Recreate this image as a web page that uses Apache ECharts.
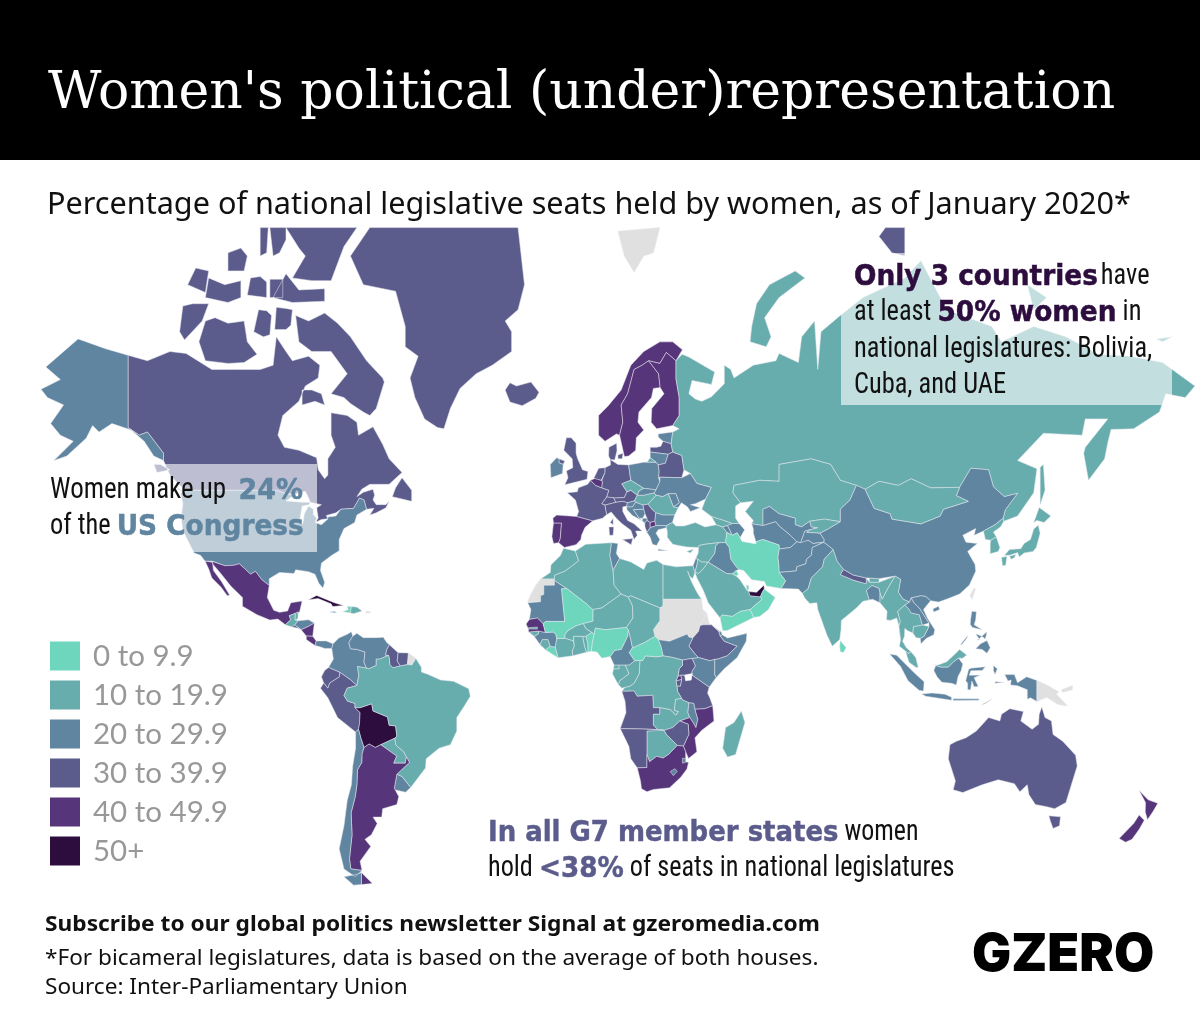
<!DOCTYPE html>
<html><head><meta charset="utf-8"><style>html,body{margin:0;padding:0;background:#fff}#c{width:1200px;height:1028px}</style>
<script src="https://cdn.jsdelivr.net/npm/echarts@6/dist/echarts.min.js"></script></head><body><div id="c"></div><script>
const legendLabels=['0 to 9.9','10 to 19.9','20 to 29.9','30 to 39.9','40 to 49.9','50+'];
const legendColors=['#6dd6bd','#68adad','#5f85a0','#5b5c8c','#57357a','#2c0d3e'];
const binMin=[0,10,20,30,40,50];
const binMax=[10,20,30,40,50,101];
const americas=['Canada','United States','Greenland','Mexico','Guatemala','Belize','Honduras','El Salvador','Nicaragua','Costa Rica','Panama','Cuba','Haiti','Dominican Rep.','Jamaica','Colombia','Venezuela','Guyana','Suriname','Ecuador','Peru','Bolivia','Paraguay','Uruguay','Brazil','Argentina','Chile'];
const americasShare=[31,24,33,48,19,12,21,33,44,46,22,53,3,19,24,20,22,32,30,38,30,53,15,21,15,41,23];
const africa=['Morocco','Mauritania','Algeria','Tunisia','Libya','Egypt','Ethiopia','Djibouti','Somalia','Kenya','South Sudan','Uganda','Rwanda','Burundi','Tanzania','DR Congo','Congo','Gabon','Eq. Guinea','Cameroon','CAR','Chad','Niger','Nigeria','Benin','Togo','Ghana','Burkina Faso',"Cote d'Ivoire",'Liberia','Sierra Leone','Guinea','Guinea-Bissau','Senegal','Gambia','Mali','Angola','Zambia','Malawi','Mozambique','Zimbabwe','Botswana','Namibia','South Africa','Eswatini','Lesotho','Madagascar'];
const africaShare=[18,20,19,25,16,15,37,26,24,22,28,35,49,38,37,13,11,15,18,29,9,15,17,6,7,18,13,13,13,9.7,12,22,14,42,10,9.5,30,18,23,41,32,11,39,43,21,23,16];
const europe=['Iceland','Portugal','Spain','France','Belgium','Netherlands','Germany','Switzerland','Austria','Italy','Denmark','United Kingdom','Ireland','Norway','Sweden','Finland','Estonia','Latvia','Lithuania','Poland','Belarus','Ukraine','Moldova','Romania','Bulgaria','Hungary','Slovakia','Czechia','Slovenia','Croatia','Bosnia','Serbia','Montenegro','Albania','N. Macedonia','Greece'];
const europeShare=[38,40,44,37,41,34,31,33,39,36,39,31,22,41,47,46,29,30,24,28,35,21,25,19,27,13,20,19,23,21,22,38,29,30,40,21];
const asiaPacific=['Turkey','Cyprus','Georgia','Armenia','Azerbaijan','Russia','Severnaya North','Kazakhstan','Uzbekistan','Turkmenistan','Kyrgyzstan','Tajikistan','Afghanistan','Pakistan','Iran','Iraq','Syria','Israel','Jordan','Saudi Arabia','Kuwait','Qatar','UAE','Oman','Yemen','India','Nepal','Bhutan','Bangladesh','Sri Lanka','China','Mongolia','North Korea','South Korea','Japan','Myanmar','Thailand','Laos','Vietnam','Cambodia','Malaysia','Indonesia','Philippines','Australia','New Zealand'];
const asiaPacificShare=[17,18,15,24,21,16,33,19,22,25,19,24,28,20,6,25,13,25,14,19.9,2,2,50,2,0.3,13,33,15,21,5,25,17,17,17,14,10,15,27,27,19,15,20,28,31,41];
const lakes=['Lake Victoria'];
const countries=[].concat(americas,africa,europe,asiaPacific);
const womenShare=[].concat(americasShare,africaShare,europeShare,asiaPacificShare);
const shapes={
Canada:[[-141,69.6,-135,69,-128,70,-123,69.8,-115,68,-108,68,-100,68,-96,68.5,-95,71.5,-92,70,-90,69,-85,69.5,-81.5,68.5,-82,67,-86,66,-88,64,-93,62,-94.5,59,-92.5,57,-88,56.5,-82.5,55.2,-82,53,-80,51.3,-79,52,-79,55,-76.7,57,-78,59,-78,62.4,-73,62,-70,61,-69.5,59,-65,60.3,-62,57.5,-60,55,-56,52.5,-60,50.2,-66,50.2,-68.5,49.2,-70,47.7,-68,48.6,-65,49.2,-64.5,48,-65,47,-64,46,-61,46,-60,46.7,-61,45.3,-64,44.2,-66,43.7,-64.7,45.2,-67,45,-67.8,47,-69.2,47.4,-71,45.2,-75,45,-76.5,44.2,-79.5,43.6,-79,42.9,-81,42.7,-83,42,-82,43,-82.5,45.3,-81,46,-84.5,46.5,-84.7,47,-86,48.8,-89.5,48.2,-92,48.3,-95,49,-123,49,-125,50,-128,52,-130,54.7,-130,56,-135,59.5,-137.5,59,-141,60.2],
[-61.5,66.5,-64,63,-66,62,-68,62.5,-72,63.7,-74,64.5,-78,65,-73,67.5,-78,70,-84,70,-88,71,-89,73.5,-85,73,-80,73.7,-76,72.8,-72,71.5,-67,69,-62,67],[-117,69,-110,68.7,-105,68.8,-101,69.7,-104,71,-105,73,-110,72.8,-114,73.3,-117,73,-119,71],[-125,72,-123.5,71.2,-118,73,-116,74.5,-121,74.5,-124,74.3],[-117,75,-110,74.6,-106,75,-106,76.3,-111,76,-116,76.5],[-96,75,-90,74.6,-80,74.7,-80,75.7,-88,75.6,-92,76.8],[-90,76.5,-84,76.3,-78,76.3,-76,77.5,-74,78.6,-70,79.7,-92,79.7,-88,78.5,-86,78],[-96,78,-94,78.2,-92,79,-92,79.7,-97,79.7],[-95.5,72.2,-92,72.2,-90.5,72.6,-90,74,-92,74.1,-95,74.2],[-102,72,-99,71.5,-97,71.7,-96.5,73.5,-98,73.9,-100.5,74],[-87,63.5,-83,64,-80,63.5,-81,65,-84,65.5,-87,65.5],[-59,47.7,-53,46.7,-53,49,-56,51.5,-58,49.5],[-128,50.7,-123.5,48.4,-125,49],[-104,75.2,-101,75.1,-98,75,-98,76.2,-100,76.6,-103,76.5],[-110,77,-105,77,-104,78,-106,78.5,-110,78.2],[-122.5,76,-117,75.4,-116,77,-120,77.2],[-97,75,-93,75,-93,76.4,-97,76.4],[-100,78,-98,78.2,-97.5,79.7,-100,79.7],[-128,53,-131,54,-133,54,-132,52.5]],
'United States':[[-124.7,48.4,-123,49,-95,49,-92,48.3,-89.5,48,-92,46.8,-87,46.5,-84.5,46.5,-84.8,46,-87,45.7,-87.8,42,-86.8,41.7,-86.3,44,-85,45.7,-83.5,45,-83.5,43.8,-82.5,43,-83,42,-81,41.5,-79,42.8,-79,43.3,-76.5,43.5,-75,45,-71,45.2,-69.2,47.4,-67.8,47,-67,45,-70,43.7,-70.7,42,-74,40.6,-75.5,38,-75.5,35.2,-78,33.9,-81,32,-81.3,30,-80,26.8,-80.5,25.2,-81.8,26.5,-83,29,-85,29.7,-89,30.2,-89.5,29.2,-94,29.5,-97.2,27.8,-97.2,25.9,-99.5,27.5,-101.5,29.8,-103,29,-104.8,30.5,-106.5,31.8,-108.2,31.4,-111,31.3,-114.8,32.5,-117.1,32.5,-118.5,34,-120.5,34.6,-122,37,-124,40.2,-124.5,43,-124,46.3],
[-141,69.6,-141,60.2,-137.5,59,-135,59.5,-130,56,-130,54.7,-133,55.5,-136,58,-140,59.8,-146,60.8,-150,59.5,-152,60.5,-154,58.5,-160,55.5,-164,54.7,-158,58,-162,59,-165,60.8,-161,63.5,-166,64.5,-168,65.6,-162,66.8,-166.5,68.3,-156.5,71.3,-148,70.3]],
Greenland:[[-66,79.7,-20,79.7,-18,76,-20,74,-24,73,-22,72,-22,70,-28,68.5,-33,67.5,-38,65.7,-41,63,-43,60,-45,60.2,-49,61.5,-52,64.5,-53.5,67,-51,69.5,-55,70.5,-55,72.5,-58,75.5,-68,76,-72,78]],
Iceland:[[-24,65.5,-22.5,63.9,-18.7,63.4,-14.5,64.4,-13.5,65.2,-16,66.5,-20.5,66,-22.5,66.4]],
Mexico:[[-114.8,32.4,-111,31.3,-108.2,31.4,-106.5,31.8,-104.8,30.5,-103,29,-101.5,29.8,-99.5,27.5,-97.2,25.9,-97.8,22.5,-95.8,18.8,-94,18.2,-91.5,18.6,-90.5,21,-87,21.5,-87.8,18.2,-89.1,17.9,-91,17.2,-90.5,16,-92.2,14.5,-94.5,16.2,-97,15.9,-101,17.5,-105.5,20,-105.5,22.5,-109,25.6,-112.5,29.5,-114.7,31.7],[-117.1,32.5,-114.8,32.2,-114.5,30,-112,27,-109.5,23.2,-110.2,23,-112.2,25.5,-115,28,-116,30.5]],
Guatemala:[[-92.2,14.5,-90.5,16,-91,17.2,-89.1,17.9,-89.2,15.9,-88.2,15.7,-89.3,14.4,-90.1,13.8]],
Belize:[[-89.1,17.9,-88.2,18.4,-88.3,16.3,-89.2,15.9]],
Honduras:[[-89.3,14.4,-88.2,15.7,-85,16,-83.2,15,-85,14,-87.3,13,-87.8,13.4]],
'El Salvador':[[-90.1,13.8,-89.3,14.4,-87.8,13.4,-88,13.2]],
Nicaragua:[[-87.3,13,-85,14,-83.2,15,-83.7,11,-85.7,11.1]],
'Costa Rica':[[-85.7,11.1,-83.7,11,-82.6,9.6,-83,8.2,-85.7,10]],
Panama:[[-83,8.2,-82.6,9.6,-79.5,9.6,-77.4,8.7,-77.8,7.3,-80,7.3,-81.5,7.8]],
Cuba:[[-85,21.9,-82.5,23.1,-77,21,-74.2,20.2,-77.5,19.9,-78,20.7,-82,22.2]],
Haiti:[[-74.4,18.4,-72,18,-71.7,19.9,-73,19.9,-72.7,19]],
'Dominican Rep.':[[-71.7,19.9,-72,18,-71,17.8,-68.4,18.6,-69.9,19.7]],
Jamaica:[[-78.3,18.3,-76.3,18,-77,18.5]],
'Puerto Rico':[[-67.2,18.5,-65.7,18.4,-66,18,-67.2,18]],
Colombia:[[-77.4,8.7,-75.6,10.5,-73,11.6,-71.7,12.4,-71.3,11,-72.5,9.1,-72,7.2,-70,7,-67.5,6.2,-67.8,3,-67,1.2,-69.8,1.7,-69.4,-1,-70,-4.2,-72,-2.4,-75.3,-0.1,-78.8,1.4,-77.3,4,-77.8,7.3]],
Venezuela:[[-71.3,11,-70,11.9,-68,10.6,-64,10.6,-61.8,10.7,-60.8,9.2,-59.9,8.4,-60.7,7,-61.1,5.2,-60.2,5.2,-62.8,4,-64,4,-64,2,-66.3,1,-67,1.2,-67.8,3,-67.5,6.2,-70,7,-72,7.2,-72.5,9.1]],
Guyana:[[-59.9,8.4,-57.2,6,-57.5,3.4,-56.5,1.9,-58.8,1.3,-59.8,2.3,-59.9,4,-60.2,5.2,-61.1,5.2,-60.7,7]],
Suriname:[[-57.2,6,-54,5.9,-54.3,2.3,-56.5,1.9,-57.5,3.4]],
'French Guiana':[[-54,5.9,-51.7,4.2,-52.9,2.2,-54.3,2.3]],
Ecuador:[[-78.8,1.4,-75.3,-0.1,-75.4,-1.5,-78.4,-3.4,-79,-5,-80.3,-3.4,-81,-1.5,-80,0.5]],
Peru:[[-80.3,-3.4,-79,-5,-78.4,-3.4,-75.4,-1.5,-75.3,-0.1,-72,-2.4,-70,-4.2,-73,-5,-74,-7.3,-72.9,-9,-70.6,-9.7,-70.6,-11,-69,-12.5,-69.2,-16,-69.5,-17.5,-70.4,-18.3,-76,-14,-79,-8,-81.3,-5]],
Bolivia:[[-69,-12.5,-70.6,-11,-69,-11,-65.4,-9.8,-65,-12,-60.5,-13.8,-60,-16.3,-58,-16.5,-57.6,-19.5,-58.2,-20.1,-62.6,-22,-64.3,-22.8,-66.2,-21.8,-67.8,-22.8,-68.8,-20,-69.5,-17.5,-69.2,-16]],
Paraguay:[[-62.6,-22,-58.2,-20.1,-57.9,-22.1,-55.5,-24,-54.6,-25.5,-55,-27.2,-58.6,-27.2,-57.7,-25.2]],
Uruguay:[[-58.4,-33.9,-57.6,-30.2,-56,-30.8,-53.3,-33.7,-54.9,-34.9,-58.3,-34.3]],
Brazil:[[-51.7,4.2,-50,1.5,-50,0,-48,-0.7,-44,-2.5,-40,-2.9,-35.3,-5.2,-34.8,-7.5,-37,-11,-39,-14,-39,-18,-41,-22,-44.5,-23,-48.5,-26,-48.7,-28.5,-53.3,-33.7,-56,-30.8,-57.6,-30.2,-53.7,-27,-54.6,-25.5,-55.5,-24,-57.9,-22.1,-58.2,-20.1,-57.6,-19.5,-58,-16.5,-60,-16.3,-60.5,-13.8,-65,-12,-65.4,-9.8,-69,-11,-70.6,-11,-70.6,-9.7,-72.9,-9,-74,-7.3,-73,-5,-70,-4.2,-69.4,-1,-69.8,1.7,-67,1.2,-66.3,1,-64,2,-64,4,-62.8,4,-60.2,5.2,-59.9,4,-59.8,2.3,-58.8,1.3,-56.5,1.9,-54.3,2.3,-52.9,2.2]],
Argentina:[[-66.2,-21.8,-64.3,-22.8,-62.6,-22,-57.7,-25.2,-58.6,-27.2,-55,-27.2,-54.6,-25.5,-53.7,-27,-57.6,-30.2,-58.4,-33.9,-57,-36,-57.6,-38,-62,-39,-62.3,-41,-65,-41,-63.7,-42.5,-65.5,-45,-67.5,-46,-65.7,-47.5,-69,-50.5,-68.4,-52.3,-71.9,-52,-72.3,-50,-71.5,-45,-71.8,-40,-70.5,-36,-70,-33,-69.8,-29,-68.5,-27,-68.4,-24.5,-67.8,-22.8],[-68.6,-52.7,-65.2,-54.7,-68.6,-54.9]],
Chile:[[-69.5,-17.5,-68.8,-20,-67.8,-22.8,-68.4,-24.5,-68.5,-27,-69.8,-29,-70,-33,-70.5,-36,-71.8,-40,-71.5,-45,-72.3,-50,-71.9,-52,-68.4,-52.3,-70.5,-53.5,-74,-52,-75.5,-48,-74,-43,-73.5,-40,-73,-37,-71.7,-33,-71.3,-28,-70.4,-23,-70.4,-18.3],[-68.6,-52.7,-68.6,-54.9,-71,-55,-74,-53.5,-70,-53]],
Morocco:[[-5.9,35.8,-2.2,35.1,-1.2,32.6,-3.6,31,-5.5,29.8,-8.7,28.7,-8.7,27.7,-13,27.7,-10,29.5,-9.8,31.5,-6.8,34]],
'Western Sahara':[[-13,27.7,-8.7,27.7,-8.7,26,-12,26,-12,23.4,-13,21.3,-17,21.3,-16,23.5,-14.5,26]],
Mauritania:[[-17,21,-13,21.3,-13,23,-12,23.4,-12,26,-8.7,26,-8.7,27.3,-4.8,25,-6.5,25,-5.5,15.5,-11.5,15.5,-12.2,14.8,-14,16.5,-16.5,16.1,-16,19]],
Algeria:[[-2.2,35.1,1,36.8,9,37.2,8.5,34,9.5,30,9.8,26,12,23.5,6,19.5,3.2,19,1.2,20.7,-4.8,25,-8.7,27.3,-8.7,28.7,-5.5,29.8,-3.6,31,-1.2,32.6]],
Tunisia:[[9,37.2,11,37,10.5,34.5,11.5,33.2,9.5,30,8.5,34]],
Libya:[[11.5,33.2,15,32.3,19,30.3,20,32,23,32.7,25,31.6,25,20,24,19.5,15,23,14.2,22.6,12,23.5,9.8,26,9.5,30]],
Egypt:[[25,31.6,29,31,32.5,31.2,34.3,31.3,34.9,29.5,34.2,27.8,33.2,28.5,32.6,29.9,33.8,27,35.5,24,36.9,22,25,22]],
Sudan:[[25,22,36.9,22,37.3,19,38.6,18,36.5,14.3,36,12.5,34.2,10.5,33,10.8,32.5,11.7,27,9.5,23.5,10,22.5,11,22,13,22.7,14,24,15.7,24,19.5,25,20]],
Eritrea:[[36.5,14.3,38.6,18,39.2,15,43,12.5,42.3,12.5,40,14.5,37.5,14.5]],
Ethiopia:[[36,12.5,36.5,14.3,37.5,14.5,40,14.5,42.3,12.5,42.8,11,44,9.5,48,8,44.9,5,42,4,41,3.9,39.5,3.5,36,4.5,35,5.5,33,8,34.2,10.5]],
Djibouti:[[42.3,12.5,43,12.5,43.3,11.5,42.8,11]],
Somalia:[[42.8,11,43.3,11.5,45,10.5,51,11.9,50.8,9.5,48,4.5,44,1,41.5,-1.7,41,-0.9,41,3.9,42,4,44.9,5,48,8,44,9.5]],
Kenya:[[34,4.2,36,4.5,39.5,3.5,41,3.9,41,-0.9,41.5,-1.7,39.3,-4.7,34,-1,33.9,0.1,35,1.9]],
'South Sudan':[[23.5,10,27,9.5,32.5,11.7,33,10.8,34.2,10.5,33,8,35,5.5,36,4.5,34,4.2,31,3.7,28,4.5,25,5,24.3,8]],
Uganda:[[31,3.7,34,4.2,35,1.9,33.9,0.1,34,-1,30.5,-1,29.6,-1.4,30,1,31,2]],
Rwanda:[[29.6,-1.4,30.5,-1,30.8,-2.3,29,-2.8]],
Burundi:[[29,-2.8,30.8,-2.3,30.4,-4.4,29.3,-4.4]],
Tanzania:[[30.5,-1,34,-1,39.3,-4.7,38.8,-6.5,39.5,-8,40.4,-10.4,38,-11.3,34.9,-11.5,34.5,-9.7,33,-9.5,31,-8.6,29.5,-6,29.3,-4.4,30.4,-4.4,30.8,-2.3]],
'DR Congo':[[12.2,-6,13.2,-4.7,14.5,-4.5,16,-3.5,17.6,-0.5,17.8,3.6,18.6,3.5,19.5,5,22.8,4.7,25,5,28,4.5,31,3.7,31,2,30,1,29.6,-1.4,29,-2.8,29.3,-4.4,29.5,-6,30.8,-8.2,28.9,-8.5,28.5,-11.8,29.8,-12.2,29,-13.3,27.2,-11.6,24,-11,22,-11,21.8,-7.2,17,-7.5,16,-5.9]],
Congo:[[11.1,-3.9,12.2,-5,13.2,-4.7,14.5,-4.5,16,-3.5,17.6,-0.5,17.8,3.6,16.2,3.5,14.5,2.2,13.2,2.2,14.4,-0.5,12.5,-2,11.7,-2.5]],
Gabon:[[9.3,-0.6,9.6,1,11.3,1,11.3,2.2,13.2,2.2,14.4,-0.5,12.5,-2,11.7,-2.5,11.1,-3.9]],
'Eq. Guinea':[[9.6,1,11.3,1,11.3,2.2,9.8,2.2]],
Cameroon:[[8.6,4.8,9.8,2.2,11.3,2.2,13.2,2.2,14.5,2.2,16.2,3.5,14.5,6,15.5,7.5,15,10,14.2,13,14,11,13,9,12,7,10,6.7]],
CAR:[[14.5,6,16.2,3.5,17.8,3.6,18.6,3.5,19.5,5,22.8,4.7,25,5,24.3,8,23.5,10,22.5,11,19,9,15.5,7.5]],
Chad:[[14.2,13,15,10,15.5,7.5,19,9,22.5,11,22,13,22.7,14,24,15.7,24,19.5,15,23,14.2,22.6,15.5,20,15.6,16.5,13.6,13.7]],
Niger:[[0.2,14.9,1,13.4,2.8,12.2,3.6,11.7,4,13.5,7,13,10,13.3,13.6,13.7,15.6,16.5,15.5,20,14.2,22.6,12,23.5,6,19.5,3.2,19,3.2,15.6]],
Nigeria:[[2.7,6.4,3,9,3.6,11.7,4,13.5,7,13,10,13.3,13.6,13.7,14.2,13,14,11,13,9,12,7,10,6.7,8.6,4.8,6,4.3,4.5,6.2]],
Benin:[[1.7,6.2,2.7,6.4,3,9,3.6,11.7,2.8,12.2,1,11,1.6,9]],
Togo:[[1.2,6.1,1.7,6.2,1.6,9,1,11,0,11,0.6,8]],
Ghana:[[-3,5,1.2,6.1,0.6,8,0,11,-2.8,11,-2.6,8,-3.2,6.5]],
'Burkina Faso':[[-5.5,10.4,-2.8,9.6,-2.8,11,0,11,1,11,2.8,12.2,1,13.4,0.2,14.9,-2,14.2,-4.5,12.8,-5.5,11.5]],
"Cote d'Ivoire":[[-7.6,4.4,-3,5,-3.2,6.5,-2.6,8,-2.8,9.6,-5.5,10.4,-8,10.3,-8.5,7.7]],
Liberia:[[-11.5,6.9,-7.6,4.4,-8.5,7.7,-10,8]],
'Sierra Leone':[[-13.2,8.5,-11.5,6.9,-10,8,-10.7,10,-12.5,10]],
Guinea:[[-15,11,-13.2,8.5,-12.5,10,-10.7,10,-10,8,-8.5,7.7,-8,10.3,-8.2,11.5,-9,12.3,-11.5,12.2,-13.7,12.6,-13.7,11.7]],
'Guinea-Bissau':[[-16.7,12.3,-13.7,12.6,-13.7,11.7,-15,11]],
Senegal:[[-17.5,14.7,-16.5,16.1,-14,16.5,-12.2,14.8,-11.5,12.2,-13.7,12.6,-16.7,12.3,-16.8,13.2]],
Gambia:[[-16.8,13.6,-14,13.8,-14,13.2,-16.8,13.2]],
Mali:[[-11.5,15.5,-5.5,15.5,-6.5,25,-4.8,25,1.2,20.7,3.2,19,3.2,15.6,0.2,14.9,-2,14.2,-4.5,12.8,-5.5,11.5,-5.5,10.4,-8,10.3,-8.2,11.5,-9,12.3,-11.5,12.2,-12.2,14.8]],
Angola:[[11.7,-17.3,13.5,-12.5,13.2,-9,12.2,-6,16,-5.9,17,-7.5,21.8,-7.2,22,-11,24,-11,24,-13,22,-13,22,-16.2,23.4,-17.6,18.5,-17.4]],
Zambia:[[22,-13,24,-13,24,-11,27.2,-11.6,29,-13.3,29.8,-12.2,28.5,-11.8,28.9,-8.5,30.8,-8.2,31,-8.6,33,-9.5,32.7,-12.5,33.3,-14,30.2,-15,28,-17,25.3,-17.8,23.4,-17.6,22,-16.2]],
Malawi:[[33,-9.5,34.5,-9.7,34.9,-11.5,35.8,-14.5,35.2,-17,34.3,-15.5,33.3,-14,32.7,-12.5]],
Mozambique:[[40.4,-10.4,40.8,-15,37,-17.8,34.9,-20,35.5,-24,32.9,-25.9,32,-24,31.3,-22.4,33,-19,32.8,-16,30.2,-15,33.3,-14,34.3,-15.5,35.2,-17,35.8,-14.5,34.9,-11.5,38,-11.3]],
Zimbabwe:[[25.3,-17.8,28,-17,30.2,-15,32.8,-16,33,-19,31.3,-22.4,29.4,-22.2,26,-19]],
Botswana:[[20,-18,23.4,-17.6,25.3,-17.8,26,-19,29.4,-22.2,26.8,-24.7,25,-25.8,23,-25.3,20.8,-26.8,20,-24.8]],
Namibia:[[11.7,-17.3,18.5,-17.4,23.4,-17.6,25.3,-17.8,20,-18,20,-24.8,20,-28.4,17,-28.5,15,-26,14.4,-22.5]],
'South Africa':[[17,-28.5,20,-28.4,20,-24.8,20.8,-26.8,23,-25.3,25,-25.8,26.8,-24.7,29.4,-22.2,31.3,-22.4,32,-24,32,-26.8,32.9,-27,32.4,-28.8,30.5,-31,27,-33.8,22,-34.2,20,-34.8,18.3,-34,18,-32]],
Eswatini:[[31,-25.8,32,-26,32,-27,31,-27.2]],
Lesotho:[[27.2,-29.5,28.7,-28.7,29.4,-29.5,28.2,-30.6]],
Madagascar:[[49.3,-12,50.4,-15.5,47.5,-24.8,45,-25.5,43.5,-23,44.4,-17,47,-15.5]],
Portugal:[[-9,41.9,-6.5,41.9,-6.9,38.2,-7.4,37.2,-9,37,-9.5,38.7]],
Spain:[[-9.2,43,-8,43.7,-1.8,43.4,3.2,42.4,0.8,40.9,-0.3,39,-0.5,38,-2,36.7,-5.6,36,-7.4,37.2,-6.9,38.2,-6.5,41.9,-9,41.9]],
France:[[-1.8,43.4,3.2,42.4,6.2,43,7.5,43.8,7,45.9,6,46.2,7.5,47.6,8.2,49,6,49.5,4,50,2.5,51,1.6,50.2,-1.3,49.5,-1.6,48.7,-4.7,48.5,-2.2,47,-1.2,44.5],[8.6,42,9.5,41.5,9.5,43]],
Belgium:[[2.5,51,4,50,6,49.5,6.2,50.7,5.8,51,4,51.4]],
Netherlands:[[3.5,51.4,5.8,51,6,51,7,52.5,7,53.4,5,53.3,4,52]],
Germany:[[6,49.5,8.2,49,7.5,47.6,10,47.4,13,47.5,13.8,48.7,12.2,50.3,15,51,14.3,53.9,11,54,8.6,54.9,8.7,53.9,7,53.4,7,52.5,6,51,6.2,50.7]],
Switzerland:[[6,46.2,7,45.9,10.4,46.5,9.6,47.5,7.5,47.6]],
Austria:[[9.6,47.5,10.4,46.5,12.4,46.7,14,46.4,16.1,46.8,17,48,15,49,13.8,48.7,13,47.5,10,47.4]],
Italy:[[7.5,43.8,8.9,44.4,10.5,43,12.3,41.7,15,40.2,16,38,17,39,16.5,40,18.5,40,16,41.7,14,42.5,12.5,44.5,12.5,45.5,13.7,45.7,14,46.4,12.4,46.7,10.4,46.5,7,45.9],[12.4,38,15.6,38.2,15.1,36.7],[8.2,41,9.7,41,9.5,39,8.4,39]],
Denmark:[[8.1,55.5,8.6,54.9,10,54.8,10.7,56.4,10.6,57.7,8.2,57],[11,55.7,12.6,56,12.3,55,11,55]],
'United Kingdom':[[-5.5,50.1,1.4,51.2,1.7,52.7,0,53,-1.5,55,-2,56,-2,57.7,-3.5,58.6,-5,58.6,-5.8,56.5,-3.2,55,-3,53.4,-5,52.8,-4.5,51.5],[-7.3,55,-5.5,54.6,-6,54,-7.3,54.3]],
Ireland:[[-10,54,-8,55.2,-7.3,55,-7.3,54.3,-6,54,-6.2,52.3,-9.8,51.5]],
Norway:[[5,59,7,58,10.5,59.2,11.5,59,12.5,61,12,63.5,14,65,16,68,18.5,68.5,20.5,69,24,68.7,26,69.9,29,69,31,70.2,28,71,24,71,19,70,15,68.5,12,65.5,8,63.4,5,62]],
Sweden:[[11.5,59,13,55.4,14.3,55.5,16.5,56.5,16.7,58.6,19,59.8,17.2,61,17.5,62.5,21.4,64.5,22,65.7,24.1,65.8,23.6,67.5,20.5,69,18.5,68.5,16,68,14,65,12,63.5,12.5,61]],
Finland:[[24.1,65.8,25.3,65,21.5,63,21.3,61,23,60,28,60.5,30,62,30,64.5,29,66.9,29,69,26,69.9,24,68.7,20.5,69,23.6,67.5]],
Estonia:[[23.5,59.2,28,59.5,27.5,57.6,25,58,23.5,58.7]],
Latvia:[[21,57,21,56.2,26.6,55.8,28,56.2,27.5,57.6,25,58,24.3,57.2,23,57]],
Lithuania:[[21,56.2,21,55.2,22.8,54.4,23.5,53.9,25.7,54.2,26.6,55.8]],
Poland:[[14.3,53.9,19,54.4,22.8,54.4,23.5,53.9,23.8,52.7,23.6,51.5,24,50.7,22.8,49.1,19,49.4,15,51]],
Belarus:[[23.5,53.9,25.7,54.2,26.6,55.8,28,56.2,30.8,55.6,31.5,53,30.8,51.5,24,51.6,23.6,51.5,23.8,52.7]],
Ukraine:[[24,51.6,30.8,51.5,33.5,52.3,35.5,50.4,40,49.6,38.2,47.2,35,46.2,33.5,46,36.5,45.3,33.5,44.5,32.6,45.5,30.7,46.4,29.7,45.3,28.2,45.5,30,46.4,29,48.3,26.6,48.3,24.9,47.7,22.8,48,22.2,48.5,22.8,49.1,24,50.7]],
Moldova:[[26.6,48.3,29,48.3,30,46.4,28.2,45.5]],
Romania:[[20.3,46.1,22.8,48,24.9,47.7,26.6,48.3,28.2,45.5,29.7,45.3,28.6,43.7,25,43.7,22.7,44.2,21.5,45]],
Bulgaria:[[22.7,44.2,25,43.7,28.6,43.7,27.9,42,26,41.3,22.8,41.3,22.4,42.3]],
Hungary:[[16.1,46.8,17,48,19,48,22.2,48.5,22.8,48,20.3,46.1,18.8,45.9,16.5,46.5]],
Slovakia:[[17,48,19,48,22.2,48.5,22.8,49.1,19,49.4,17.5,48.9]],
Czechia:[[12.2,50.3,13.8,48.7,15,49,17,48,17.5,48.9,19,49.4,15,51]],
Slovenia:[[13.7,45.5,15.5,45.5,16.5,46.5,16.1,46.8,14,46.4,13.7,45.7]],
Croatia:[[13.7,45.5,13.8,44.9,15.5,43.6,18.5,42.4,17.6,43,15.8,44.9,19,45,18.8,45.9,16.5,46.5,15.5,45.5]],
Bosnia:[[15.8,44.9,17.6,43,18.7,43,19.4,44,19,45]],
Serbia:[[19,45,18.8,45.9,20.3,46.1,21.5,45,22.7,44.2,22.4,42.3,21,42,20,42.5,20,43,19.4,44]],
Montenegro:[[18.5,42.4,18.7,43,20,43,20,42.5,19.3,41.9]],
Albania:[[19.3,41.9,20,42.5,21,42,21,40.8,20,39.7,19.4,41]],
'N. Macedonia':[[21,42,22.4,42.3,22.8,41.3,21,40.8]],
Greece:[[20,39.7,21,40.8,22.8,41.3,26,41.3,26,40.8,23.5,40.3,22.8,39.5,24,38,23,36.5,21.7,36.8,21,38.5],[23.5,35.6,26.3,35.2,26,35,23.5,35.2]],
Turkey:[[26,40.8,26,41.3,27.9,42,29,41.2,31.5,41.2,35,42,38,41,41.5,41.5,43.5,41,44.8,39.7,44.4,37.2,42.3,37.2,38,36.8,36.2,36.5,36,36,32.5,36.1,30.5,36.4,28,36.8,26.3,38.5,26.3,40]],
Cyprus:[[32.3,35,34.5,35.6,33.5,34.6]],
Georgia:[[40,43.4,43.5,42.6,46.5,41.8,45,41.3,43.5,41,41.5,41.5]],
Armenia:[[43.5,41,45,41.3,46.5,39,44.8,39.7]],
Azerbaijan:[[45,41.3,46.5,41.8,48.6,41.8,50.3,40.3,48.9,38.4,48,39.6,46.5,39]],
Russia:[[30.9,69.7,33,69.4,41,67.7,40,66.2,34,66.7,33,65,35,64.3,37,64,40,64.6,44,66.3,44,68.5,46,68,47,67,53,68.5,60,69,61,69.8,67,68.8,68,71.5,72,73,73,68,74,72,80,73.5,87,75,100,76.5,105,77.7,113,74,127,72.5,130,71,140,72.5,150,71.5,160,69.7,170,69.5,180,68.8,190,66,187,64.5,181,65,179,62.5,171,60,164,59.9,163,57.8,162,55,157,51,155.5,56,156,57,163,61.5,156,61.5,155,59,143,59.3,135,54.7,141,53.2,140,48.5,135,43.5,130.7,42.3,130.5,43,131.2,44.9,135,48.4,130.9,47.7,127.5,49.7,126,53,120.5,53.3,117,49.6,108,49.5,102,51.3,98,50,92,50.8,87.7,49.2,85,50,80,51,77,54,71,55,61,54,61,50.8,55,51,47,50,46.7,48.5,49,46.4,47.5,45.7,47.5,43,48.6,41.8,46.5,41.8,43.5,42.6,40,43.4,37,45,38.2,47.2,40,49.6,35.5,50.4,33.5,52.3,31.5,53,30.8,55.6,28,56.2,27.5,57.6,28,59.5,30,60,28,60.5,30,62,30,64.5,29,66.9,29,69],[52,71,57,70.5,58.5,71.5,56.5,73.3,61,75,69,76.5,66,77,58,76,54,74.5,52.5,72.5],[142,46,143.5,49,143,54,142,53.5,142,49],[20,54.4,22.8,54.4,21,55.2],[140,74,144,75,138,76],[180,71,183,71.5,178,71.3]],
'Severnaya North':[[92,79.2,96,78.2,100,78,100,79.7,94,79.7]],
Kazakhstan:[[47,50,55,51,61,50.8,61,54,71,55,77,54,80,51,85,50,83,47,80,45,80,42.2,75,42.8,70.5,42.3,68,41,66,41.5,66,43,61,44,58,45.6,56,45,56,41.3,52.5,41.7,53,42.5,50.5,44.5,53,46.7,49,46.4,46.7,48.5]],
Uzbekistan:[[56,45,58,45.6,61,44,66,43,66,41.5,68,41,70.5,42.3,71,41,73,40.8,70.5,40.3,69,40,67.7,37.2,66.5,37.4,64.5,39,61,41.2,60,42.2,56,41.3]],
Turkmenistan:[[52.5,41.7,56,41.3,60,42.2,61,41.2,64.5,39,66.5,37.4,64.5,36,61,35.6,61,36.6,56,38,53.8,37.4,53,39.5,53,40.5]],
Kyrgyzstan:[[70.5,42.3,75,42.8,80,42.2,76,40.4,73.7,39.5,69.5,39.7,70.5,40.3,73,40.8,71,41]],
Tajikistan:[[67.7,37.2,69,40,70.5,40.3,69.5,39.7,73.7,39.5,75,38,74.9,37.3,71.5,37,70,37.8,68,37]],
Afghanistan:[[61,35.6,64.5,36,66.5,37.4,67.7,37.2,68,37,70,37.8,71.5,37,74.9,37.3,71.3,36,71,34,69.5,33,69.3,31.8,66.5,31,66.3,29.9,61,29.5,60.9,31.5,60.6,33.5]],
Pakistan:[[61,29.5,66.3,29.9,66.5,31,69.3,31.8,69.5,33,71,34,71.3,36,74.9,37.3,77.8,35.5,75,33,74.5,31,71,28,70,25,68.2,23.7,67,24.9,61.6,25.1,63,27.2]],
Iran:[[44.8,39.7,46.5,39,48,39.6,48.9,38.4,49.5,37.5,53.8,36.9,53.8,37.4,56,38,61,36.6,61,35.6,60.6,33.5,60.9,31.5,61,29.5,63,27.2,61.6,25.1,57,25.8,56.5,27,52.5,27.5,50,30,48.5,30.3,47.7,31,46,33,45.5,36,44.4,37.2]],
Iraq:[[42.3,37.2,44.4,37.2,45.5,36,46,33,47.7,31,48.5,30.3,47.7,30,46.5,29.1,44.7,29.2,39,32.2,41,34.5,41.3,36.4]],
Syria:[[36,36,36.2,36.5,38,36.8,42.3,37.2,41.3,36.4,41,34.5,39,32.2,36.8,32.3,35.8,33,35.1,33.1,35.9,34.6]],
Israel:[[34.3,31.3,35.1,33.1,35.8,33,35.5,31.5,34.9,29.5]],
Jordan:[[35.5,31.5,35.8,33,36.8,32.3,39,32.2,37.5,30.5,36,29.2,34.9,29.5]],
'Saudi Arabia':[[34.9,29.5,36,29.2,37.5,30.5,39,32.2,44.7,29.2,46.5,29.1,47.7,28.5,48.8,27.6,50.2,25.7,51,24.6,51.6,24.2,52,23,55.2,22.7,55.7,22,52,19,49,18.5,46.5,17,43.3,17.4,42.7,16.5,39,21,37.5,24.5,35.5,28]],
Kuwait:[[46.5,29.1,47.7,30,48.4,29,47.7,28.5]],
Qatar:[[51,24.6,50.8,26,51.6,25.9,51.6,24.8]],
UAE:[[51.6,24.2,54,24,56.3,26,56.4,24.9,55.8,24,55.2,22.7,52,23]],
Oman:[[55.2,22.7,55.8,24,56.4,24.9,59.8,22.5,57.7,19,55,17,53.1,16.7,52,19,55.7,22]],
Yemen:[[42.7,16.5,43.3,17.4,46.5,17,49,18.5,52,19,53.1,16.7,45,12.8,43.5,12.7]],
India:[[68.2,23.7,70,25,71,28,74.5,31,75,33,77.8,35.5,79,32.5,81,30.3,80,28.9,84,27.4,88,26.4,88,28,89,26.8,92,26.8,97,28.5,94.5,24.7,93,22,92.3,23.7,92,25.1,89.8,25.9,88.1,24.5,89,21.8,87,21.4,85,19.5,80.3,15.8,80.2,13,79.8,10,77.5,8,75.8,11.5,73,19,72.7,21,70.5,20.8,69,22.3]],
Nepal:[[80,28.9,81,30.3,84,28.8,88,28,88,26.4,84,27.4]],
Bhutan:[[89,26.8,89,28,92,27.8,92,26.8]],
Bangladesh:[[88.1,24.5,89.8,25.9,92,25.1,92.3,23.7,92.3,21,90,22,89,21.8]],
'Sri Lanka':[[80,9.7,81.8,7.5,81,6.1,80,6.2,79.8,8]],
China:[[73.7,39.5,76,40.4,80,42.2,80,45,83,47,85,50,87.7,49.2,90.5,45.2,95.5,44,96,42.8,105,41.7,111,43.5,112,45,119.7,46.7,116,47.9,117,49.6,120.5,53.3,126,53,127.5,49.7,130.9,47.7,135,48.4,131.2,44.9,130.5,43,128,41.5,124.4,40,121.5,39,122,40.6,118,39,119,37.3,122.5,37,119.5,35,121.8,31.6,122,29.8,120,26,117,23.5,113.5,22.2,110.5,21.2,108,21.6,106.5,22.8,105,23,102,22.4,101.5,21.2,99.5,22,98,24,98.7,27.6,97,28.5,92,27.8,89,28,88,28,84,28.8,81,30.3,79,32.5,77.8,35.5,74.9,37.3,75,38],[108.7,19.2,110.5,20,110.8,19,109,18.3]],
Mongolia:[[87.7,49.2,92,50.8,98,50,102,51.3,108,49.5,117,49.6,116,47.9,119.7,46.7,112,45,111,43.5,105,41.7,96,42.8,95.5,44,90.5,45.2]],
'North Korea':[[124.4,40,128,41.5,130.5,43,130.7,42.3,129.7,41,127.5,39.8,128.4,38.6,126.7,37.8,125,38]],
'South Korea':[[126.7,37.8,128.4,38.6,129.5,36,129,35,126.5,34.4,126.5,37]],
Japan:[[130.9,34,132.5,35.5,136,35.7,137,37,139,38,140,40.5,141.4,41.4,142,39.5,140.8,36,139.8,35,137,34.6,135.5,33.6,135,34.7,132.5,34],[140,42,141.7,45.4,145.3,43.5,143.2,42,141,42.5],[130,33.5,131.7,33.7,131.3,31.4,130.3,31.3],[132.5,33.8,134.5,34.2,134,33.4,133,33]],
Taiwan:[[120.2,23,121.5,25.2,121.9,25,120.9,22]],
Svalbard:[[11,79.5,13,78,16,76.9,19,78,22,78.2,24,79.7]],
Myanmar:[[92.3,21,92.3,23.7,93,22,94.5,24.7,97,28.5,98.7,27.6,98,24,99.5,22,101.5,21.2,100,20.3,97.8,18.5,98.6,15.5,98.2,14,98.7,10,98.5,13,97.5,16.5,95.5,15.8,94.3,16,94.5,18.5]],
Thailand:[[97.8,18.5,100,20.3,101,19.5,102,18,104.5,17.5,105.5,14.4,102.7,13.9,102.5,12,100.9,12.7,100,13.4,99.9,11,99.3,9.5,100.5,7.5,102,6.2,101,5.7,100.2,6.5,98.3,8,98.7,10,98.2,14,98.6,15.5]],
Laos:[[100,20.3,101.5,21.2,102,22.4,103,20.8,104.5,19.5,107.5,15,105.5,14.4,104.5,17.5,102,18,101,19.5]],
Vietnam:[[102,22.4,105,23,106.5,22.8,108,21.6,105.8,19,107,16.5,109.3,13,109,11.5,106.7,10.4,105,8.7,104.8,10.4,106,11,107.5,14,107.5,15,104.5,19.5,103,20.8]],
Cambodia:[[102.5,12,102.7,13.9,105.5,14.4,107.5,14,106,11,104.8,10.4,103.5,10.6]],
Malaysia:[[100.2,6.5,101,5.7,102,6.2,103.4,4.5,104.2,1.4,103.4,1.5,101.3,3],[109.6,2,111.2,1.5,113.5,1.5,115,3,116.7,4.3,118,4.3,119.2,5.3,117,7,115.5,5.5,113,3.2,111.2,2.5]],
Indonesia:[[109.6,2,111.2,1.5,113.5,1.5,115,3,116.7,4.3,118,2.5,117.5,0.5,116.5,-1.5,116,-4,114.5,-3.5,111.5,-3.2,110,-1.5,109,0.5],[95.3,5.6,97.5,5.2,100.5,2.2,103.5,-0.8,106,-3,105.8,-5.9,104.5,-5.7,101,-2.7,98.7,1.7],[105.2,-6.8,108.5,-6.5,112.5,-6.9,114.5,-7.8,114.5,-8.7,106.5,-7.5],[119.8,0.8,120.5,1.2,125,1.6,124,0.5,120.5,0.4,120,-1,121.5,-1,123.4,-0.9,121.5,-1.8,122.8,-4.5,121.5,-4.6,120.8,-2.8,120.4,-5.5,119.5,-5.5,119.5,-3.5,118.9,-2.7],[131,-0.8,134,-0.8,135,-3.3,137.8,-1.5,141,-2.6,141,-9.1,139,-8,138,-8.4,138,-5.5,135,-4.3,132.8,-4,133,-2.5,132,-2.8],[115,-8.3,118.8,-8.3,123,-8.3,123,-8.7,115,-8.8],[123.7,-10.2,127,-8.4,125,-9.7],[127.5,2,128.7,1,128,-0.8,127.5,0.5],[128,-3,130.8,-3.2,128,-3.5]],
'Papua New Guinea':[[141,-2.6,145,-4.5,147.8,-6.2,147,-6.8,150.5,-10.5,147.5,-10,144,-7.8,141,-9.1],[148.5,-5.6,152,-4.2,152,-5.5,149,-6.3]],
Philippines:[[120.4,16,120.8,18.5,122.2,18.4,122,16,121.5,14.5,124,13,123,13.2,121,13.7,120.3,14.6],[122,7.2,123.5,8.7,125.5,9.7,126.5,7.5,125.5,5.8,124,7],[122,11.8,123.2,10,122.5,9.8,125.5,12.4,125,10.2,123.9,11],[117.2,8.4,119.5,11.2,119.3,10.5,117.8,8.6]],
Australia:[[114,-22,113.5,-26,115.7,-32,115,-34.3,118,-35,124,-33,129,-31.7,134,-32.7,135.7,-34.8,138,-33,138.5,-35.5,140.5,-38,144,-38.5,146.5,-39,150,-37.5,151.5,-33.5,153.5,-28,153,-25,149,-21,146,-19,145.5,-15,143.5,-14,142.5,-10.8,141.7,-13,141.5,-16,139.5,-17.5,136,-15,136.8,-12.2,132.6,-11.3,130,-13,129.5,-15,126,-14,122.2,-18,119,-20,116,-21],[144.7,-40.7,148.3,-40.9,148,-43,146,-43.6,145.2,-42]],
'New Zealand':[[172.7,-34.5,175.5,-36.8,178.5,-37.7,177,-39.7,175.3,-41.6,174.6,-39.8,174.7,-37.5],[172.7,-40.5,174.3,-41.7,172.8,-43.7,170.5,-46,168.5,-46.6,166.5,-45.8,171,-42.5]],
'Lake Victoria':[[31.7,-1,34,-0.5,33.7,-2.5,32,-2.7]]
};
function ringOf(f){const r=[];for(let i=0;i<f.length;i+=2)r.push([f[i],f[i+1]]);r.push([f[0],f[1]]);return r;}
const features=Object.keys(shapes).map(n=>({type:'Feature',properties:{name:n},geometry:{type:'MultiPolygon',coordinates:shapes[n].map(f=>[ringOf(f)])}}));
echarts.registerMap('gz',{type:'FeatureCollection',features});
const K=3.223,X0=582.5,Y0=672;
const mercDeg=lat=>Math.log(Math.tan(Math.PI/4+lat*Math.PI/360))*180/Math.PI;
const invMerc=m=>(2*Math.atan(Math.exp(m*Math.PI/180))-Math.PI/2)*180/Math.PI;
const LONW=-180,LONE=191,LATN=79.7,LATS=-60;
const left=X0+LONW*K,right=X0+LONE*K,top_=Y0-mercDeg(LATN)*K,bottom=Y0-mercDeg(LATS)*K;
const chart=echarts.init(document.getElementById('c'),null,{renderer:'canvas'});
const F='"Liberation Sans Narrow","Roboto Condensed",sans-serif';
const H='"DejaVu Sans",sans-serif';
function txt(x,y,text,o,sx){return {type:'text',z:100,scaleX:sx||1,originX:x,originY:y,style:Object.assign({x,y,text,textVerticalAlign:'middle',textAlign:'left'},o)};}
function rich(x,y,text,rs,sx){return {type:'text',z:100,scaleX:sx||1,originX:x,originY:y,style:{x,y,text,textVerticalAlign:'middle',textAlign:'left',rich:rs}};}
const body={fontFamily:F,fontSize:29,fill:'#111',color:'#111'};
const hv=c=>({fontFamily:H,fontWeight:'bold',fontSize:29,fill:c,color:c,stroke:c,lineWidth:0.5});
const NOTE=0.91;
chart.setOption({animation:false,backgroundColor:'#fff',
geo:{map:'gz',silent:true,roam:false,aspectScale:1,boundingCoords:[[LONW,LATN],[LONE,LATS]],
 projection:{project:p=>[p[0],-mercDeg(p[1])],unproject:p=>[p[0],invMerc(-p[1])]},
 layoutCenter:[(left+right)/2,(top_+bottom)/2],layoutSize:right-left,
 label:{show:false},emphasis:{disabled:true},
 itemStyle:{areaColor:'#e0e0e0',borderColor:'rgba(232,232,240,0.85)',borderWidth:0.6},
 regions:lakes.map(n=>({name:n,itemStyle:{areaColor:'#fff',borderColor:'#fff'}}))},
visualMap:{type:'piecewise',seriesIndex:0,left:35,top:626,orient:'vertical',inverse:true,itemWidth:30,itemHeight:29,itemGap:9,itemSymbol:'rect',textGap:13,hoverLink:false,selectedMode:false,
 textStyle:{fontFamily:'Lato,sans-serif',fontSize:29.5,color:'#989898'},
 pieces:legendLabels.map((l,i)=>({gte:binMin[i],lt:binMax[i],label:l,color:legendColors[i]}))},
series:[{type:'map',geoIndex:0,silent:true,data:countries.map((n,i)=>({name:n,value:womenShare[i]}))}],
graphic:[
 {type:'rect',z:90,shape:{x:0,y:0,width:1200,height:160},style:{fill:'#000'}},
 {type:'rect',z:90,shape:{x:841,y:253,width:331,height:152},style:{fill:'rgba(255,255,255,0.6)'}},
 {type:'rect',z:90,shape:{x:40,y:464,width:277,height:88},style:{fill:'rgba(255,255,255,0.6)'}},
 txt(48,94,"Women's political (under)representation",{fontFamily:'"DejaVu Serif",serif',fontSize:52,fill:'#fff'}),
 txt(47,205,'Percentage of national legislative seats held by women, as of January 2020*',{fontFamily:'"Noto Sans",sans-serif',fontSize:30,fill:'#111'},1.02),
 rich(854,277,'{h|Only 3 countries} {b|have}',{h:hv('#2c0d3e'),b:body},NOTE),
 rich(854,313,'{b|at least }{h|50% women}{b| in}',{h:hv('#2c0d3e'),b:body},NOTE),
 txt(854,350,'national legislatures: Bolivia,',body,NOTE),
 txt(854,386,'Cuba, and UAE',body,NOTE),
 rich(50,491,'{b|Women make up  }{h|24%}',{h:hv('#5f85a0'),b:body},0.93),
 rich(50,527,'{b|of the }{h|US Congress}',{h:hv('#5f85a0'),b:body},NOTE),
 rich(488,833,'{h|In all G7 member states}{b| women}',{h:hv('#5b5c8c'),b:body},0.895),
 rich(488,869,'{b|hold }{h|<38%}{b| of seats in national legislatures}',{h:hv('#5b5c8c'),b:body},0.905),
 txt(45,925,'Subscribe to our global politics newsletter Signal at gzeromedia.com',{fontFamily:'"Noto Sans",sans-serif',fontWeight:'bold',fontSize:21,fill:'#111'},1.082),
 txt(45,959,'*For bicameral legislatures, data is based on the average of both houses.',{fontFamily:'"Noto Sans",sans-serif',fontSize:21,fill:'#111'},1.076),
 txt(45,988,'Source: Inter-Parliamentary Union',{fontFamily:'"Noto Sans",sans-serif',fontSize:21,fill:'#111'},1.075),
 txt(972,955,'GZERO',{fontFamily:'Inter,sans-serif',fontWeight:900,fontSize:52,fill:'#000'})
]});
</script></body></html>
